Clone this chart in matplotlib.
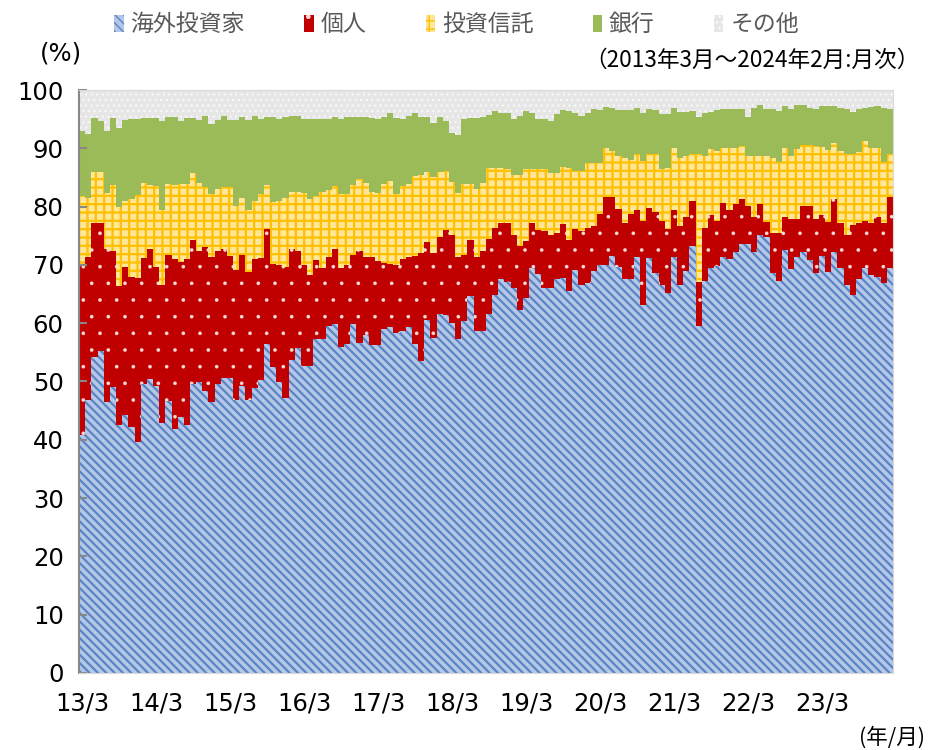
import matplotlib.pyplot as plt
import matplotlib.patches as mpatches
import numpy as np

plt.rcParams['font.family'] = ['Noto Sans CJK JP', 'DejaVu Sans']

# Shares of Japanese equity ownership by investor type, monthly 2013/3 - 2024/2 (%)
foreign = [40.8, 46.8, 54.2, 55.2, 46.4, 49.1, 42.6, 44.2, 42.2, 39.7, 49.5, 50.5,
           49.3, 42.8, 46.6, 41.9, 43.9, 42.5, 49.6, 49.9, 48.3, 46.4, 49.6, 50.6,
           50.6, 46.8, 49.3, 46.8, 48.8, 50.2, 56.5, 52.5, 49.9, 47.1, 53.7, 55.7,
           52.6, 52.6, 57.3, 57.3, 59.6, 59.9, 55.9, 56.5, 59.9, 56.6, 57.9, 56.2,
           56.2, 59.0, 59.3, 58.4, 58.7, 59.3, 56.5, 53.6, 60.5, 57.5, 61.6, 61.4,
           60.0, 57.3, 60.3, 64.6, 58.7, 58.7, 61.6, 64.8, 67.5, 67.0, 66.0, 62.2,
           64.3, 69.5, 68.5, 66.0, 66.0, 67.5, 67.8, 65.6, 69.2, 66.6, 66.9, 68.9,
           69.9, 69.9, 71.5, 69.6, 67.5, 67.5, 71.4, 63.1, 71.1, 68.6, 66.6, 65.1,
           71.3, 66.6, 68.9, 73.3, 59.5, 67.2, 69.5, 69.8, 71.3, 71.0, 72.2, 73.6,
           73.6, 72.2, 75.2, 74.8, 68.6, 67.2, 72.5, 69.3, 71.3, 72.2, 70.9, 68.6,
           71.6, 68.8, 72.2, 69.5, 66.6, 64.8, 67.5, 69.5, 68.2, 68.0, 66.9, 69.5]
individual = [29.1, 24.6, 23.0, 22.0, 26.3, 23.3, 23.8, 25.4, 25.7, 28.0, 21.7, 22.2,
              20.4, 23.8, 25.1, 29.1, 26.6, 28.5, 24.7, 22.5, 24.7, 24.9, 22.8, 22.1,
              21.0, 22.3, 22.4, 21.9, 22.2, 21.0, 19.6, 17.6, 20.0, 22.5, 19.0, 16.7,
              17.3, 15.6, 13.6, 12.1, 11.8, 12.8, 13.5, 13.4, 11.8, 15.8, 13.5, 15.2,
              14.5, 11.3, 10.8, 11.5, 12.3, 12.0, 15.1, 18.5, 13.5, 14.6, 13.1, 14.6,
              15.2, 14.1, 11.4, 9.6, 12.6, 13.7, 12.9, 11.6, 9.7, 10.2, 9.1, 11.1,
              9.8, 7.7, 7.5, 9.8, 9.2, 8.0, 9.2, 8.7, 7.0, 9.2, 9.5, 7.8,
              8.8, 11.8, 10.2, 10.0, 9.7, 11.3, 8.0, 14.4, 8.6, 10.4, 10.9, 11.0,
              8.1, 10.1, 9.4, 7.7, 7.6, 9.2, 9.0, 7.7, 9.4, 8.4, 8.2, 7.7,
              6.5, 6.1, 5.2, 2.6, 6.9, 8.2, 5.7, 8.5, 6.6, 7.9, 9.2, 9.3,
              7.0, 8.6, 9.1, 7.7, 8.6, 12.1, 9.7, 8.0, 9.0, 10.2, 10.3, 12.1]
trust = [11.9, 10.1, 8.8, 8.8, 9.7, 11.3, 13.6, 11.4, 13.4, 14.3, 12.9, 11.0,
         13.9, 12.9, 12.2, 12.7, 13.4, 12.9, 11.4, 11.7, 10.4, 10.8, 10.6, 10.6,
         11.7, 11.0, 9.8, 10.8, 10.0, 10.9, 7.6, 10.7, 11.1, 11.9, 9.8, 10.1,
         12.5, 13.1, 10.9, 13.1, 11.5, 10.9, 12.7, 12.2, 12.0, 12.3, 12.7, 11.1,
         11.7, 13.6, 14.3, 12.2, 12.6, 12.6, 13.6, 13.4, 12.0, 13.0, 11.2, 10.1,
         9.1, 11.0, 12.2, 9.7, 11.8, 11.7, 12.1, 10.2, 9.4, 9.2, 10.4, 12.2,
         12.4, 9.3, 10.4, 10.6, 10.5, 10.2, 9.8, 12.3, 9.9, 10.3, 11.1, 10.8,
         8.8, 8.3, 7.9, 9.0, 11.1, 9.2, 9.6, 10.4, 9.3, 10.0, 8.9, 10.6,
         10.7, 11.7, 10.4, 8.0, 21.9, 12.3, 11.3, 12.1, 9.3, 10.7, 9.7, 9.1,
         8.6, 10.4, 8.3, 11.3, 12.8, 12.2, 11.9, 10.8, 11.9, 10.4, 10.4, 12.5,
         11.6, 12.3, 9.6, 12.4, 13.8, 12.1, 12.1, 13.7, 12.9, 11.9, 10.4, 7.4]
bank = [11.2, 10.9, 9.2, 8.6, 10.6, 11.5, 13.4, 13.8, 13.7, 13.0, 11.1, 11.5,
        11.6, 15.1, 11.5, 11.7, 10.8, 11.3, 9.5, 10.8, 12.1, 12.0, 11.9, 12.2,
        11.6, 14.7, 13.9, 15.3, 14.6, 12.9, 11.7, 14.6, 14.0, 13.9, 13.0, 13.0,
        12.6, 13.7, 13.2, 12.5, 12.2, 11.7, 13.0, 13.2, 11.6, 10.7, 11.3, 12.7,
        12.6, 11.4, 11.6, 13.1, 11.4, 11.6, 10.8, 9.9, 9.4, 9.2, 9.5, 8.6,
        8.4, 9.8, 11.1, 11.3, 12.1, 11.2, 9.1, 9.8, 9.5, 9.7, 9.5, 10.0,
        9.9, 9.6, 8.6, 8.6, 9.0, 10.1, 9.7, 9.8, 10.0, 9.5, 8.5, 9.2,
        9.0, 7.1, 7.3, 7.9, 8.2, 8.5, 7.9, 8.2, 7.7, 7.5, 9.4, 9.1,
        6.8, 7.8, 7.5, 7.4, 6.3, 7.4, 6.4, 6.9, 6.7, 6.6, 6.6, 6.3,
        6.6, 8.2, 8.8, 8.0, 8.4, 8.8, 7.1, 8.1, 7.7, 7.0, 6.4, 6.4,
        7.0, 7.5, 6.3, 7.3, 7.7, 7.2, 7.4, 5.7, 7.0, 7.1, 9.3, 7.7]
other = [7.0, 7.6, 4.8, 5.4, 7.0, 4.8, 6.6, 5.2, 5.0, 5.0, 4.8, 4.8,
         4.8, 5.4, 4.6, 4.6, 5.3, 4.8, 4.8, 5.1, 4.5, 5.9, 5.1, 4.5,
         5.1, 5.2, 4.6, 5.2, 4.4, 5.0, 4.6, 4.6, 5.0, 4.6, 4.5, 4.5,
         5.0, 5.0, 5.0, 5.0, 4.9, 4.7, 4.9, 4.7, 4.7, 4.6, 4.6, 4.8,
         5.0, 4.7, 4.0, 4.8, 5.0, 4.5, 4.0, 4.6, 4.6, 5.7, 4.6, 5.3,
         7.3, 7.8, 5.0, 4.8, 4.8, 4.7, 4.3, 3.6, 3.9, 3.9, 5.0, 4.5,
         3.6, 3.9, 5.0, 5.0, 5.3, 4.2, 3.5, 3.6, 3.9, 4.4, 4.0, 3.3,
         3.5, 2.9, 3.1, 3.5, 3.5, 3.5, 3.1, 3.9, 3.3, 3.5, 4.2, 4.2,
         3.1, 3.8, 3.8, 3.6, 4.7, 3.9, 3.8, 3.5, 3.3, 3.3, 3.3, 3.3,
         4.7, 3.1, 2.5, 3.3, 3.3, 3.6, 2.8, 3.3, 2.5, 2.5, 3.1, 3.2,
         2.8, 2.8, 2.8, 3.1, 3.3, 3.8, 3.3, 3.1, 2.9, 2.8, 3.1, 3.3]

series_names = ['海外投資家', '個人', '投資信託', '銀行', 'その他']
tick_labels = ['13/3', '14/3', '15/3', '16/3', '17/3', '18/3',
               '19/3', '20/3', '21/3', '22/3', '23/3']

# face colour, hatch colour, hatch pattern, hatch line width
styles = [('#b4c7e7', '#5b84c4', '\\\\\\\\', 1.6),
          ('#c00000', '#f7dada', '.', 0.2),
          ('#ffe699', '#ffc000', '++', 1.6),
          ('#9bbb59', '#9bbb59', None, 1.0),
          ('#e6e6e6', '#fafafa', '...', 0.8)]

fig = plt.figure(figsize=(9.34, 7.5), dpi=100)
ax = fig.add_axes([0.0846, 0.1027, 0.8714, 0.7773])

x = np.arange(len(foreign))
bottom = np.zeros(len(x))
handles = []
for vals, name, (fc, hc, hatch, hlw) in zip([foreign, individual, trust, bank, other],
                                            series_names, styles):
    vals = np.array(vals)
    with plt.rc_context({'hatch.linewidth': hlw}):
        bars = ax.bar(x, vals, width=1.0, bottom=bottom, facecolor=fc,
                      edgecolor=hc, hatch=hatch, linewidth=0)
        patch = mpatches.Patch(facecolor=fc, edgecolor=hc, hatch=hatch,
                               linewidth=0, label=name)
    for p in list(bars) + [patch]:
        if hasattr(p, 'set_hatch_linewidth'):
            p.set_hatch_linewidth(hlw)
    bottom = bottom + vals
    handles.append(patch)

ax.set_xlim(-0.5, len(x) - 0.5)
ax.set_ylim(0, 100)
ax.set_yticks(range(0, 101, 10))
ax.set_xticks(np.arange(0, len(x), 12))
ax.set_xticklabels(tick_labels)
ax.tick_params(axis='y', direction='in', labelsize=17.5, color='#888888',
               length=6, width=1.5, pad=11, labelcolor='black')
ax.tick_params(axis='x', labelsize=17.5, length=0, pad=13, labelcolor='black')
for lab in ax.get_xticklabels() + ax.get_yticklabels():
    lab.set_family('DejaVu Sans')

for side in ['top', 'right', 'bottom']:
    ax.spines[side].set_color('#d9d9d9')
ax.spines['left'].set_color('#888888')
ax.spines['left'].set_linewidth(1.5)

fig.legend(handles=handles, loc='center', bbox_to_anchor=(0.489, 0.967), ncol=5,
           frameon=False, fontsize=16.5, handlelength=0.4, handleheight=0.75,
           handletextpad=0.3, columnspacing=2.6, labelcolor='#595959')

fig.text(0.043, 0.929, '(%)', fontsize=17.5, color='black', va='center',
         family='DejaVu Sans')
fig.text(0.985, 0.92, '（2013年3月～2024年2月:月次）', fontsize=16.3, ha='right',
         va='center', color='black')
fig.text(0.99, 0.017, '(年/月)', fontsize=15.5, ha='right', va='center',
         color='black')

fig.savefig('out.png', dpi=100)
